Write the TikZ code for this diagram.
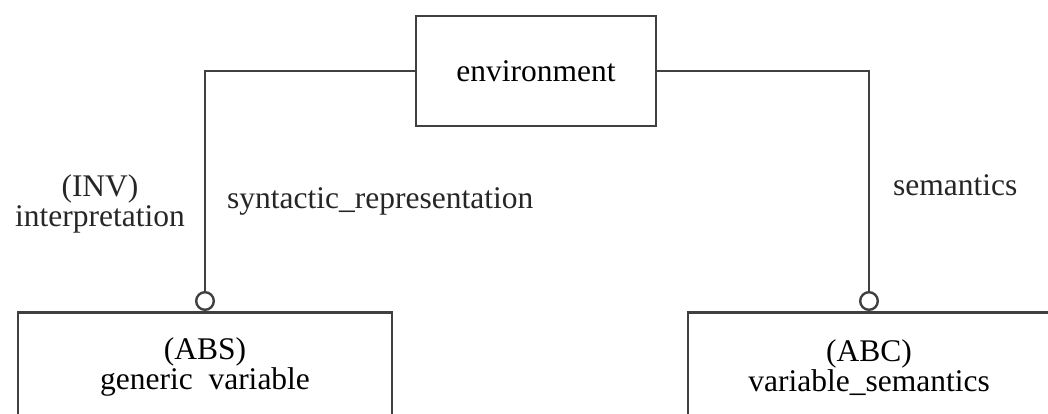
\documentclass[tikz,border=0pt]{standalone}
\usepackage{fontspec}
\setmainfont{Liberation Serif}
\usetikzlibrary{arrows.meta,positioning}

\begin{document}
\begin{tikzpicture}[
  x=1pt, y=-1pt,
  font=\fontsize{31.5}{30}\selectfont,
  box/.style={draw=black!75, line width=2.6pt, align=center, inner sep=0pt},
  link/.style={draw=black!75, line width=2.6pt,
               -{Circle[open, length=20pt, line width=2.4pt]}},
  lbl/.style={align=center, inner sep=0pt, text=black!85},
]
\useasboundingbox (0,0) rectangle (1048,413);
\clip (0,0) rectangle (1048,413);

\node[box, minimum width=240pt, minimum height=110pt] (env) at (536,71) {environment};
\node[box, anchor=north, minimum width=374pt, minimum height=110pt] (abs) at (205,311)
       {(ABS)\\ generic\ \ variable};
\node[box, anchor=north, minimum width=362pt, minimum height=110pt] (abc) at (869,311)
       {(ABC)\\ variable\_semantics};

\node[lbl] (inv) at (100,204) {(INV)\\ interpretation};
\node[lbl, anchor=base west] (syn) at (227,208) {syntactic\_representation};
\node[lbl, anchor=base west] (sem) at (893,195) {semantics};

\draw[link] (env.west) -| (abs.north);
\draw[link] (env.east) -| (abc.north);
\end{tikzpicture}
\end{document}
